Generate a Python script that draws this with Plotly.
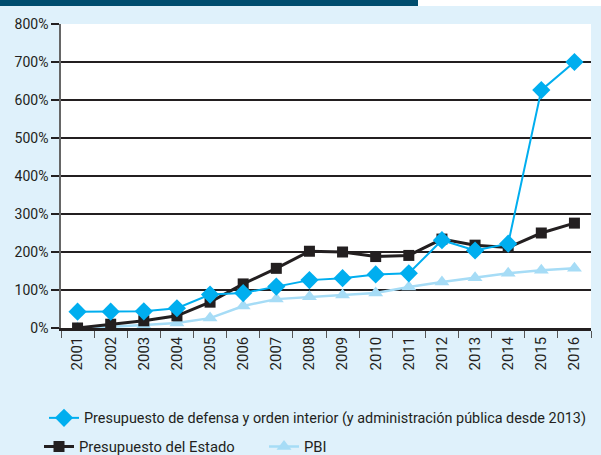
import plotly.graph_objects as go

years = [str(y) for y in range(2001, 2017)]
defensa = [43, 43, 44, 52, 88, 92, 109, 126, 131, 141, 144, 231, 204, 222, 626, 700]
estado = [0, 10, 19, 32, 68, 116, 157, 202, 200, 188, 191, 234, 218, 212, 250, 276]
pbi = [0, 3, 8, 13, 26, 58, 76, 82, 87, 92, 108, 121, 132, 144, 152, 157]
y_ticks = [0, 100, 200, 300, 400, 500, 600, 700, 800]
y_labels = [f"{v}%" for v in y_ticks]

FONT = "Roboto, sans-serif"
W, H = 601, 455
L, R, T, B = 61, 10, 24, 127
pw, ph = W - L - R, H - T - B

def px_x(p):
    return (p - L) / pw

def px_y(p):
    return (H - B - p) / ph

fig = go.Figure()
fig.add_trace(go.Scatter(
    x=years, y=pbi, name="PBI", mode="lines+markers",
    line=dict(color="#a6dcf6", width=2.5),
    marker=dict(symbol="triangle-up", size=13, color="#a6dcf6"),
    legend="legend3"))
fig.add_trace(go.Scatter(
    x=years, y=estado, name="Presupuesto del Estado", mode="lines+markers",
    line=dict(color="#231f20", width=3),
    marker=dict(symbol="square", size=11, color="#231f20"),
    legend="legend2"))
fig.add_trace(go.Scatter(
    x=years, y=defensa,
    name="Presupuesto de defensa y orden interior (y administración pública desde 2013)",
    mode="lines+markers",
    line=dict(color="#00aeef", width=2),
    marker=dict(symbol="diamond", size=14, color="#00aeef"),
    legend="legend"))

leg_font = dict(family=FONT, size=14.8, color="#231f20")
fig.update_layout(
    width=W, height=H,
    margin=dict(l=L, r=R, t=T, b=B, autoexpand=False),
    paper_bgcolor="#dff1fb",
    plot_bgcolor="#ffffff",
    font=dict(family=FONT, size=14, color="#231f20"),
    showlegend=True,
    legend=dict(x=px_x(44), y=px_y(418), xanchor="left", yanchor="middle",
                orientation="h", bgcolor="rgba(0,0,0,0)",
                font=dict(family=FONT, size=14.4, color="#231f20")),
    legend2=dict(x=px_x(39), y=px_y(447), xanchor="left", yanchor="middle",
                 orientation="h", bgcolor="rgba(0,0,0,0)", font=leg_font),
    legend3=dict(x=px_x(264), y=px_y(447), xanchor="left", yanchor="middle",
                 orientation="h", bgcolor="rgba(0,0,0,0)", font=leg_font),
    xaxis=dict(
        type="category", tickangle=-90, showgrid=False, automargin=False,
        showline=True, linecolor="#231f20", linewidth=2.5,
        ticks="outside", tickson="boundaries", ticklen=7, tickcolor="#555555",
        tickwidth=1, tickfont=dict(family=FONT, size=15, color="#231f20"),
        range=[-0.5, 15.5], zeroline=False),
    yaxis=dict(
        range=[0, 800], tickmode="array", tickvals=y_ticks, ticktext=y_labels,
        automargin=False,
        showgrid=True, gridcolor="#231f20", gridwidth=2,
        ticks="outside", ticklen=8, tickcolor="#231f20", tickwidth=2,
        showline=True, linecolor="#666666", linewidth=1.5,
        zeroline=False, tickfont=dict(family=FONT, size=14, color="#231f20")),
    shapes=[
        dict(type="rect", xref="paper", yref="paper",
             x0=px_x(0), x1=px_x(418), y0=px_y(6), y1=px_y(0),
             fillcolor="#004d6e", line=dict(width=0), layer="above"),
        dict(type="rect", xref="paper", yref="paper",
             x0=px_x(418), x1=px_x(601), y0=px_y(6), y1=px_y(0),
             fillcolor="#ffffff", line=dict(width=0), layer="above"),
    ],
)

fig.write_html("out.html", config={"displayModeBar": False},
               post_script="document.body.style.margin='0';")
